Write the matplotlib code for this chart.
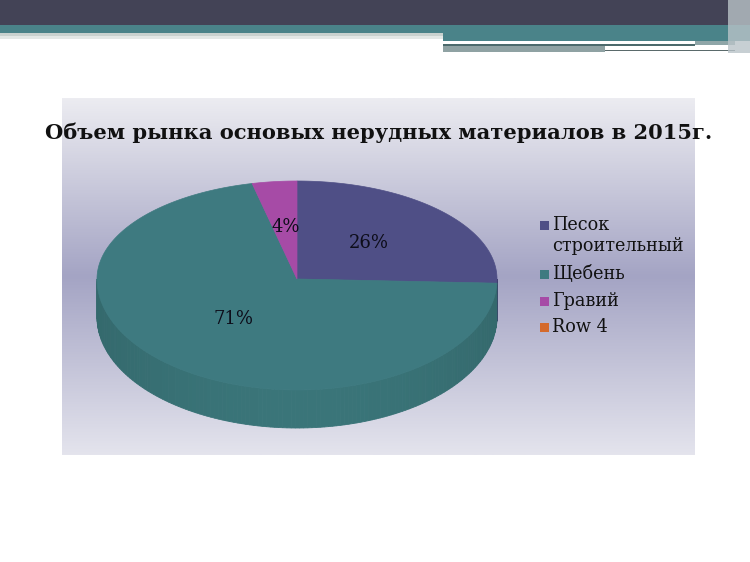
import matplotlib.pyplot as plt
import numpy as np
from matplotlib.colors import LinearSegmentedColormap, to_rgb
from matplotlib.patches import Polygon, Rectangle

plt.rcParams["font.family"] = ["DejaVu Serif"]

# Data
title = "Объем рынка основых нерудных материалов в 2015г."
categories = ["Песок\nстроительный", "Щебень", "Гравий", "Row 4"]
values = [25.6, 70.8, 3.6, 0.0]
colors = ["#4f4f86", "#3e7a80", "#a64ba6", "#d46a2c"]
side_colors = ["#424274", "#3a7579", "#8c3e8c", "#b0561f"]

W, H = 750, 562
fig = plt.figure(figsize=(W / 100, H / 100), dpi=100)
ax = fig.add_axes([0, 0, 1, 1])

# Slide header
ax.add_patch(Rectangle((0, 0), W, 25, color="#434356", lw=0))
ax.add_patch(Rectangle((0, 25), W, 8, color="#4a8389", lw=0))
ax.add_patch(Rectangle((0, 33), 443, 3, color="#c9d2cf", lw=0))
ax.add_patch(Rectangle((0, 36), 443, 3, color="#e3e8e6", lw=0))
ax.add_patch(Rectangle((443, 33), W - 443, 8, color="#4a8389", lw=0))
ax.add_patch(Rectangle((443, 41), 252, 3, color="white", lw=0))
ax.add_patch(Rectangle((443, 44), 252, 1.5, color="#4c6a6c", lw=0))
ax.add_patch(Rectangle((695, 41), 40, 4, color="#8fa6a8", lw=0))
ax.add_patch(Rectangle((443, 45.5), 162, 6, color="#8fa2a3", lw=0))
ax.add_patch(Rectangle((605, 46), 130, 3.5, color="white", lw=0))
ax.add_patch(Rectangle((605, 49.5), 130, 1.5, color="#5a6a6b", lw=0))
ax.add_patch(Rectangle((728, 0), 22, 53, color="#b9c3c8", lw=0, alpha=0.8))

# Chart area with vertical gradient
x0, x1, y0, y1 = 62, 695, 98, 455
cmap = LinearSegmentedColormap.from_list(
    "bg", [(0, "#ececf1"), (0.5, "#a4a4c4"), (1, "#e4e4ed")])
grad = np.linspace(0, 1, 256).reshape(-1, 1)
ax.imshow(grad, cmap=cmap, extent=(x0, x1, y1, y0), aspect="auto", zorder=0)
ax.set_xlim(0, W)
ax.set_ylim(H, 0)
ax.axis("off")

ax.text(378.5, 133, title, ha="center", va="center",
        fontsize=15.1, fontweight="bold", color="#111111")

# 3D pie
cx, cy, rx = 297, 279, 200
ry_back, ry_front, depth = 98, 111, 38


def pt(t):
    s = np.sin(t)
    ry = np.where(s >= 0, ry_back, ry_front)
    return cx + rx * np.cos(t), cy - ry * s


total = sum(values)
angles = [np.pi / 2]
for v in values:
    angles.append(angles[-1] - 2 * np.pi * v / total)

# side walls (front half only)
for i in range(len(values)):
    a_hi, a_lo = angles[i], angles[i + 1]
    if a_hi == a_lo:
        continue
    base = np.array(to_rgb(side_colors[i]))
    for k in (-2, -1, 0):
        lo = max(a_lo, -np.pi + 2 * np.pi * k)
        hi = min(a_hi, 2 * np.pi * k)
        if hi <= lo:
            continue
        ts = np.linspace(lo, hi, 150)
        for j in range(len(ts) - 1):
            xa, ya = pt(ts[j:j + 2])
            f = abs(np.cos(ts[j]))
            c = np.clip(base * (1.0 - 0.1 * f ** 2), 0, 1)
            poly = [(xa[0], ya[0]), (xa[1], ya[1]),
                    (xa[1], ya[1] + depth), (xa[0], ya[0] + depth)]
            ax.add_patch(Polygon(poly, closed=True, color=c, lw=0.6, zorder=2))

# top faces
for i in range(len(values)):
    if values[i] == 0:
        continue
    ts = np.linspace(angles[i], angles[i + 1], 200)
    xs, ys = pt(ts)
    poly = [(cx, cy)] + list(zip(xs, ys))
    ax.add_patch(Polygon(poly, closed=True, facecolor=colors[i],
                         edgecolor=colors[i], lw=0.5, zorder=3))

# percentage labels
for i in range(len(values)):
    if values[i] == 0:
        continue
    mid = (angles[i] + angles[i + 1]) / 2
    lx = cx + 0.5 * rx * np.cos(mid)
    ly = cy - 0.52 * 100 * np.sin(mid)
    ax.text(lx, ly, f"{values[i] / total * 100:.0f}%", ha="center",
            va="center", fontsize=13, color="#0d0d1a", zorder=4)

# legend
leg_y = [226, 275, 302, 328]
for lab, c, y in zip(categories, colors, leg_y):
    ax.add_patch(Rectangle((540, y - 5), 9, 9, color=c, lw=0, zorder=4))
    ax.text(552, y - 10, lab, ha="left", va="top", fontsize=12.7,
            color="#111111", linespacing=1.2, zorder=4)

fig.savefig("out.png", dpi=100)
